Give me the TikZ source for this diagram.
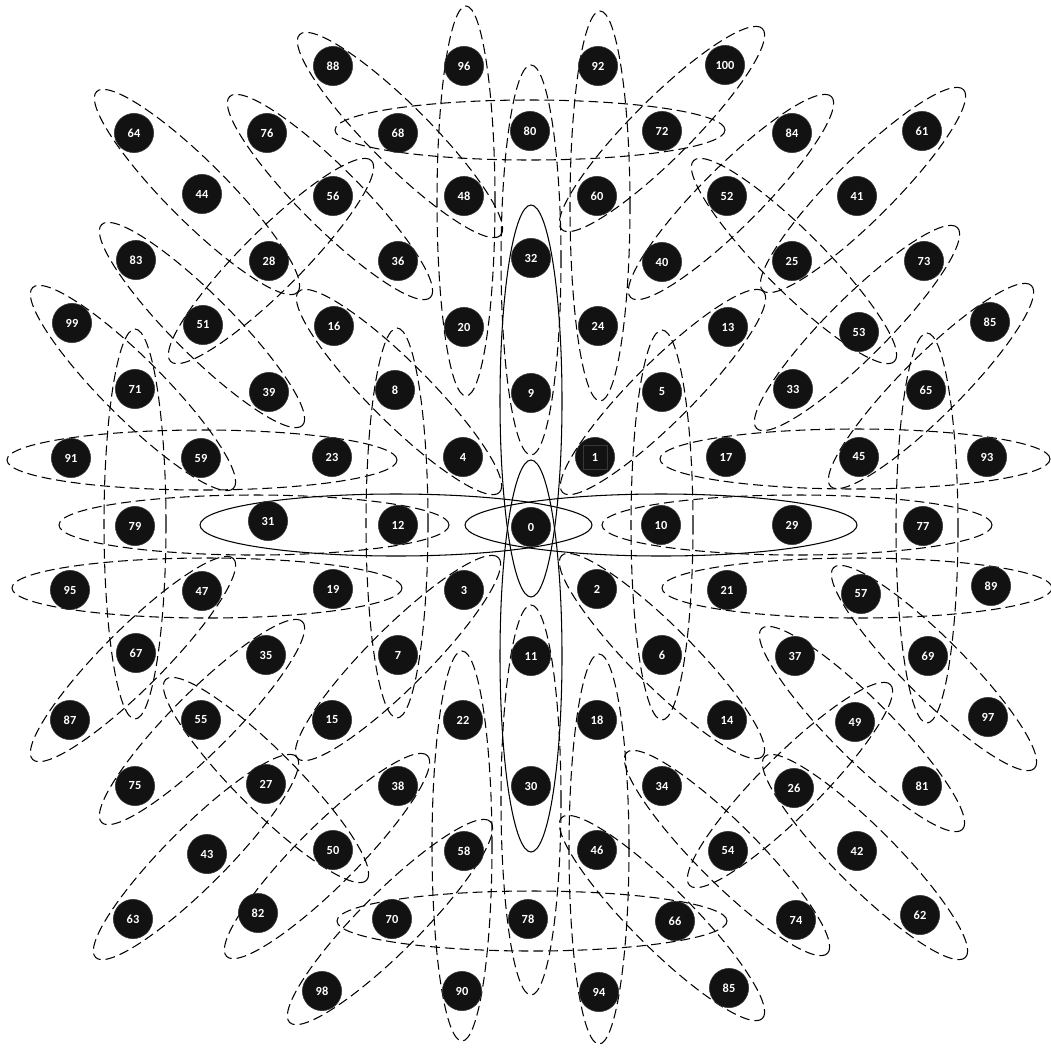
\documentclass[tikz,border=0pt]{standalone}
\usepackage{fontspec}
\setmainfont{Carlito}
\usetikzlibrary{positioning}

\begin{document}
\begin{tikzpicture}[
  x=0.025cm, y=0.025cm,
  ball/.style={
    circle,
    fill=black!93,
    draw=black!80,
    inner sep=0pt,
    minimum size=0.98cm,
    text=white,
    font=\bfseries\fontsize{8.8}{9}\selectfont
  },
  marked/.style={ball, label={[draw=black!78, minimum size=0.6cm, inner sep=0pt]center:{}}},
  hull/.style={draw, line width=0.75pt},
  dhull/.style={draw, line width=0.75pt, dash pattern=on 7pt off 3.5pt}
]
\useasboundingbox (0,0) rectangle (1051,-1047);

% dashed rings, horizontal
\draw[dhull] (530,-130) ellipse [x radius=195, y radius=30];
\draw[dhull] (202,-460) ellipse [x radius=195, y radius=30];
\draw[dhull] (254,-525) ellipse [x radius=195, y radius=30];
\draw[dhull] (207,-588) ellipse [x radius=195, y radius=30];
\draw[dhull] (532,-921) ellipse [x radius=195, y radius=30];
\draw[dhull] (855,-459) ellipse [x radius=195, y radius=30];
\draw[dhull] (797,-525) ellipse [x radius=195, y radius=30];
\draw[dhull] (857,-588) ellipse [x radius=195, y radius=30];

% dashed rings, vertical
\draw[dhull] (466,-201) ellipse [x radius=29, y radius=195];
\draw[dhull] (135,-524) ellipse [x radius=31, y radius=195];
\draw[dhull] (397,-523) ellipse [x radius=31, y radius=195];
\draw[dhull] (462,-846) ellipse [x radius=30, y radius=195];
\draw[dhull] (531,-800) ellipse [x radius=30, y radius=195];
\draw[dhull] (531,-260) ellipse [x radius=30, y radius=195];
\draw[dhull] (600,-206) ellipse [x radius=30, y radius=195];
\draw[dhull] (599,-849) ellipse [x radius=30, y radius=195];
\draw[dhull] (662,-525) ellipse [x radius=31, y radius=195];
\draw[dhull] (927,-528) ellipse [x radius=31, y radius=195];

% dashed rings, falling
\draw[dhull, shift={(400,-135)}, rotate=-45] (0,0) ellipse [x radius=142, y radius=30];
\draw[dhull, shift={(197,-192)}, rotate=-45] (0,0) ellipse [x radius=142, y radius=30];
\draw[dhull, shift={(330,-197)}, rotate=-45] (0,0) ellipse [x radius=142, y radius=30];
\draw[dhull, shift={(202,-325)}, rotate=-45] (0,0) ellipse [x radius=142, y radius=30];
\draw[dhull, shift={(133,-388)}, rotate=-45] (0,0) ellipse [x radius=142, y radius=30];
\draw[dhull, shift={(399,-392)}, rotate=-45] (0,0) ellipse [x radius=142, y radius=30];
\draw[dhull, shift={(266,-780)}, rotate=-45] (0,0) ellipse [x radius=142, y radius=30];
\draw[dhull, shift={(794,-261)}, rotate=-45] (0,0) ellipse [x radius=142, y radius=30];
\draw[dhull, shift={(934,-668)}, rotate=-45] (0,0) ellipse [x radius=142, y radius=30];
\draw[dhull, shift={(862,-729)}, rotate=-45] (0,0) ellipse [x radius=142, y radius=30];
\draw[dhull, shift={(662,-656)}, rotate=-45] (0,0) ellipse [x radius=142, y radius=30];
\draw[dhull, shift={(865,-857)}, rotate=-45] (0,0) ellipse [x radius=142, y radius=30];
\draw[dhull, shift={(727,-853)}, rotate=-45] (0,0) ellipse [x radius=142, y radius=30];
\draw[dhull, shift={(662,-918)}, rotate=-45] (0,0) ellipse [x radius=142, y radius=30];

% dashed rings, rising
\draw[dhull, shift={(271,-261)}, rotate=45] (0,0) ellipse [x radius=142, y radius=30];
\draw[dhull, shift={(133,-659)}, rotate=45] (0,0) ellipse [x radius=142, y radius=30];
\draw[dhull, shift={(202,-722)}, rotate=45] (0,0) ellipse [x radius=142, y radius=30];
\draw[dhull, shift={(196,-857)}, rotate=45] (0,0) ellipse [x radius=142, y radius=30];
\draw[dhull, shift={(327,-856)}, rotate=45] (0,0) ellipse [x radius=142, y radius=30];
\draw[dhull, shift={(398,-658)}, rotate=45] (0,0) ellipse [x radius=142, y radius=30];
\draw[dhull, shift={(390,-922)}, rotate=45] (0,0) ellipse [x radius=142, y radius=30];
\draw[dhull, shift={(662,-129)}, rotate=45] (0,0) ellipse [x radius=142, y radius=30];
\draw[dhull, shift={(731,-197)}, rotate=45] (0,0) ellipse [x radius=142, y radius=30];
\draw[dhull, shift={(863,-190)}, rotate=45] (0,0) ellipse [x radius=142, y radius=30];
\draw[dhull, shift={(857,-328)}, rotate=45] (0,0) ellipse [x radius=142, y radius=30];
\draw[dhull, shift={(663,-392)}, rotate=45] (0,0) ellipse [x radius=142, y radius=30];
\draw[dhull, shift={(931,-386)}, rotate=45] (0,0) ellipse [x radius=142, y radius=30];
\draw[dhull, shift={(790,-785)}, rotate=45] (0,0) ellipse [x radius=142, y radius=30];

% solid rings through 0
\draw[hull] (396,-525) ellipse [x radius=196, y radius=31];
\draw[hull] (661,-525) ellipse [x radius=196, y radius=31];
\draw[hull] (531,-401) ellipse [x radius=31, y radius=196];
\draw[hull] (531,-656) ellipse [x radius=31, y radius=196];

% row 1
\node[ball] (n88) at (333,-66) {88};
\node[ball] (n96) at (464,-66) {96};
\node[ball] (n92) at (598,-66) {92};
\node[ball] (n100) at (725,-65) {100};
% row 2
\node[ball] (n64) at (134,-133) {64};
\node[ball] (n76) at (267,-133) {76};
\node[ball] (n68) at (398,-133) {68};
\node[ball] (n80) at (530,-131) {80};
\node[ball] (n72) at (662,-131) {72};
\node[ball] (n84) at (792,-133) {84};
\node[ball] (n61) at (922,-131) {61};
% row 3
\node[ball] (n44) at (202,-194) {44};
\node[ball] (n56) at (333,-196) {56};
\node[ball] (n48) at (464,-196) {48};
\node[ball] (n60) at (597,-196) {60};
\node[ball] (n52) at (727,-196) {52};
\node[ball] (n41) at (857,-196) {41};
% row 4
\node[ball] (n83) at (136,-260) {83};
\node[ball] (n28) at (269,-261) {28};
\node[ball] (n36) at (398,-261) {36};
\node[ball] (n32) at (531,-258) {32};
\node[ball] (n40) at (662,-262) {40};
\node[ball] (n25) at (792,-261) {25};
\node[ball] (n73) at (924,-261) {73};
% row 5
\node[ball] (n99) at (72,-323) {99};
\node[ball] (n51) at (203,-325) {51};
\node[ball] (n16) at (334,-326) {16};
\node[ball] (n20) at (464,-327) {20};
\node[ball] (n24) at (598,-326) {24};
\node[ball] (n13) at (728,-327) {13};
\node[ball] (n53) at (859,-332) {53};
\node[ball] (n85) at (990,-322) {85};
% row 6
\node[ball] (n71) at (135,-389) {71};
\node[ball] (n39) at (269,-392) {39};
\node[ball] (n8) at (395,-390) {8};
\node[ball] (n9) at (531,-393) {9};
\node[ball] (n5) at (662,-392) {5};
\node[ball] (n33) at (793,-389) {33};
\node[ball] (n65) at (926,-390) {65};
% row 7
\node[ball] (n91) at (71,-458) {91};
\node[ball] (n59) at (201,-458) {59};
\node[ball] (n23) at (332,-457) {23};
\node[ball] (n4) at (463,-457) {4};
\node[marked] (n1) at (595,-457) {1};
\node[ball] (n17) at (726,-457) {17};
\node[ball] (n45) at (859,-457) {45};
\node[ball] (n93) at (987,-457) {93};
% row 8
\node[ball] (n79) at (135,-526) {79};
\node[ball] (n31) at (268,-521) {31};
\node[ball] (n12) at (398,-525) {12};
\node[ball] (n0) at (531,-527) {0};
\node[ball] (n10) at (661,-525) {10};
\node[ball] (n29) at (792,-525) {29};
\node[ball] (n77) at (923,-526) {77};
% row 9
\node[ball] (n95) at (70,-590) {95};
\node[ball] (n47) at (202,-591) {47};
\node[ball] (n19) at (333,-589) {19};
\node[ball] (n3) at (464,-590) {3};
\node[ball] (n2) at (597,-589) {2};
\node[ball] (n21) at (727,-590) {21};
\node[ball] (n57) at (861,-594) {57};
\node[ball] (n89) at (991,-586) {89};
% row 10
\node[ball] (n67) at (136,-653) {67};
\node[ball] (n35) at (266,-655) {35};
\node[ball] (n7) at (398,-655) {7};
\node[ball] (n11) at (531,-656) {11};
\node[ball] (n6) at (662,-655) {6};
\node[ball] (n37) at (795,-656) {37};
\node[ball] (n69) at (928,-656) {69};
% row 11
\node[ball] (n87) at (70,-720) {87};
\node[ball] (n55) at (201,-720) {55};
\node[ball] (n15) at (332,-720) {15};
\node[ball] (n22) at (463,-720) {22};
\node[ball] (n18) at (597,-720) {18};
\node[ball] (n14) at (727,-720) {14};
\node[ball] (n49) at (855,-722) {49};
\node[ball] (n97) at (988,-717) {97};
% row 12
\node[ball] (n75) at (135,-786) {75};
\node[ball] (n27) at (266,-784) {27};
\node[ball] (n38) at (398,-786) {38};
\node[ball] (n30) at (531,-786) {30};
\node[ball] (n34) at (662,-786) {34};
\node[ball] (n26) at (794,-788) {26};
\node[ball] (n81) at (922,-786) {81};
% row 13
\node[ball] (n43) at (207,-854) {43};
\node[ball] (n50) at (333,-850) {50};
\node[ball] (n58) at (464,-851) {58};
\node[ball] (n46) at (597,-850) {46};
\node[ball] (n54) at (728,-851) {54};
\node[ball] (n42) at (857,-851) {42};
% row 14
\node[ball] (n63) at (133,-919) {63};
\node[ball] (n82) at (258,-913) {82};
\node[ball] (n70) at (392,-919) {70};
\node[ball] (n78) at (528,-919) {78};
\node[ball] (n66) at (675,-921) {66};
\node[ball] (n74) at (796,-920) {74};
\node[ball] (n62) at (920,-915) {62};
% row 15
\node[ball] (n98) at (322,-991) {98};
\node[ball] (n90) at (462,-991) {90};
\node[ball] (n94) at (599,-992) {94};
\node[ball] (n85b) at (729,-988) {85};
\end{tikzpicture}
\end{document}
